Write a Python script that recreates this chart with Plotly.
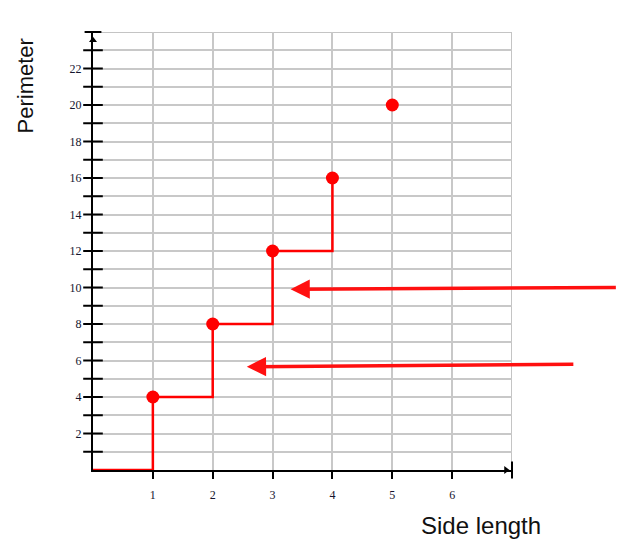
import plotly.graph_objects as go

# Data
side_length = [1, 2, 3, 4, 5]
perimeter = [4, 8, 12, 16, 20]
step_x = [0, 1, 1, 2, 2, 3, 3, 4, 4]
step_y = [0, 0, 4, 4, 8, 8, 12, 12, 16]
x_ticks = [1, 2, 3, 4, 5, 6]
y_ticks = list(range(1, 24))
y_labels = [str(v) if v % 2 == 0 else "" for v in y_ticks]
# arrows: (tail_x, tail_y, head_x, head_y) in data units
arrows = [(8.76, 10.0, 3.30, 9.9), (8.05, 5.79, 2.57, 5.66)]

fig = go.Figure()

# step line
fig.add_trace(go.Scatter(x=step_x, y=step_y, mode="lines",
                         line=dict(color="#ff0000", width=2.5), hoverinfo="skip",
                         cliponaxis=False))
# points
fig.add_trace(go.Scatter(x=side_length, y=perimeter, mode="markers",
                         marker=dict(color="#ff0000", size=13), cliponaxis=False))
# crossing y-axis ticks
fig.add_trace(go.Scatter(x=[0] * len(y_ticks), y=y_ticks, mode="markers",
                         marker=dict(symbol="line-ew", size=14,
                                     line=dict(color="black", width=2)),
                         cliponaxis=False, hoverinfo="skip"))
# axis end markers
fig.add_trace(go.Scatter(x=[0], y=[24], mode="markers",
                         marker=dict(symbol="line-ew", size=12,
                                     line=dict(color="black", width=2)),
                         cliponaxis=False, hoverinfo="skip"))
fig.add_trace(go.Scatter(x=[7], y=[0], mode="markers",
                         marker=dict(symbol="line-ns", size=12,
                                     line=dict(color="black", width=2)),
                         cliponaxis=False, hoverinfo="skip"))
fig.add_trace(go.Scatter(x=[0], y=[23.55], mode="markers",
                         marker=dict(symbol="triangle-up", size=7, color="black"),
                         cliponaxis=False, hoverinfo="skip"))
fig.add_trace(go.Scatter(x=[6.9], y=[0], mode="markers",
                         marker=dict(symbol="triangle-right", size=7, color="black"),
                         cliponaxis=False, hoverinfo="skip"))

for tx, ty, hx, hy in arrows:
    fig.add_annotation(x=hx, y=hy, ax=tx, ay=ty, xref="x", yref="y",
                       axref="x", ayref="y", showarrow=True, text="",
                       arrowhead=2, arrowsize=1.1, arrowwidth=3.5,
                       arrowcolor="#ff1010")

fig.add_annotation(text="Perimeter", xref="paper", yref="paper",
                   x=-0.1623, y=0.878, xanchor="center", yanchor="middle",
                   textangle=-90, showarrow=False,
                   font=dict(family="Liberation Sans, Arial", size=22, color="#111"))
fig.add_annotation(text="Side length", xref="paper", yref="paper",
                   x=0.926, y=-0.1256, xanchor="center", yanchor="middle",
                   showarrow=False,
                   font=dict(family="Liberation Sans, Arial", size=24, color="#111"))

# gray border top and right
fig.add_shape(type="line", xref="x", yref="y", x0=0, x1=7, y0=24, y1=24,
              line=dict(color="#c4c4c4", width=2), layer="below")
fig.add_shape(type="line", xref="x", yref="y", x0=7, x1=7, y0=0, y1=24,
              line=dict(color="#c4c4c4", width=2), layer="below")

fig.update_layout(
    width=620, height=537,
    margin=dict(l=85, r=116, t=24, b=75),
    paper_bgcolor="white", plot_bgcolor="white",
    showlegend=False,
    xaxis=dict(range=[0, 7], tickvals=x_ticks, ticktext=[str(v) for v in x_ticks],
               showgrid=True, gridcolor="#c8c8c8", gridwidth=2,
               zeroline=False, showline=True, linecolor="black", linewidth=2,
               ticks="outside", ticklen=7, tickwidth=2, tickcolor="black",
               ticklabelstandoff=6, layer="below traces",
               tickfont=dict(family="Liberation Serif, serif", size=12, color="#14142e"),
               fixedrange=True),
    yaxis=dict(range=[0, 24], tickvals=y_ticks, ticktext=y_labels,
               showgrid=True, gridcolor="#c8c8c8", gridwidth=2,
               zeroline=False, showline=True, linecolor="black", linewidth=2,
               ticks="", ticklabelstandoff=7, layer="below traces",
               tickfont=dict(family="Liberation Serif, serif", size=12, color="#14142e"),
               fixedrange=True),
)

fig.write_html("out.html")
